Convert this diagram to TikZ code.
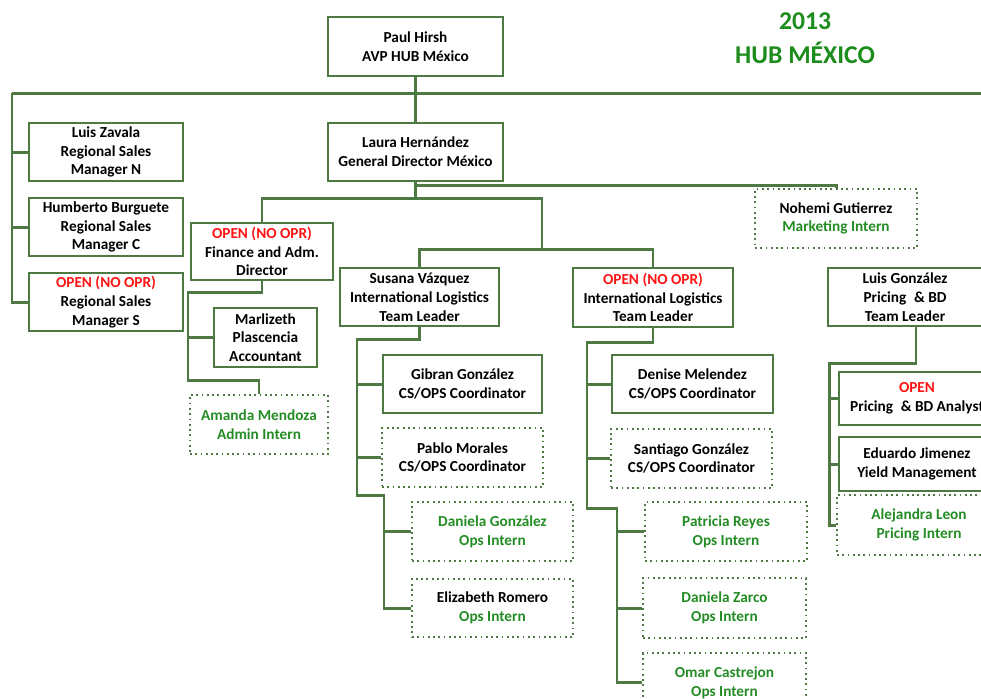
\documentclass[tikz,border=0pt]{standalone}
\usepackage{fontspec}
\setmainfont{Carlito}
\usepackage{xcolor}
\usepackage{tikz}
\usetikzlibrary{positioning}

\definecolor{boxgreen}{RGB}{79,121,66}
\definecolor{interngreen}{RGB}{36,140,36}
\definecolor{titlegreen}{RGB}{28,140,28}
\definecolor{openred}{RGB}{255,20,20}
\newcommand{\opentxt}[1]{\textcolor{openred}{#1}}
\newcommand{\interntxt}[1]{\textcolor{interngreen}{#1}}

\begin{document}
\begin{tikzpicture}[
        x=0.02cm, y=-0.02cm,
        box/.style={rectangle, draw=boxgreen, line width=1pt, fill=white, inner sep=0pt, align=center, font=\bfseries\fontsize{8.7}{10.7}\selectfont},
        ibox/.style={box, dotted, line width=1.3pt},
        link/.style={draw=boxgreen, line width=1.7pt}
    ]
    \useasboundingbox (0,0) rectangle (981,698);

    % Title
    \node (year) [font=\bfseries\fontsize{14.6}{16}\selectfont, text=titlegreen] at (805,21) {2013};
    \node (hub) [font=\bfseries\fontsize{14.6}{16}\selectfont, text=titlegreen] at (805,53) {HUB MÉXICO};

    % Direccion
    \node (paul) [box, minimum width=3.5cm, minimum height=1.18cm] at (415.5,46.5) {Paul Hirsh\\AVP HUB México};
    \node (laura) [box, minimum width=3.5cm, minimum height=1.16cm] at (415.5,152) {Laura Hernández\\General Director México};

    % Ventas regionales
    \node (zavala) [box, minimum width=3.08cm, minimum height=1.16cm] at (106,152) {Luis Zavala\\Regional Sales\\Manager N};
    \node (burguete) [box, minimum width=3.08cm, minimum height=1.16cm] at (106,227) {Humberto Burguete\\Regional Sales\\Manager C};
    \node (rsms) [box, minimum width=3.08cm, minimum height=1.16cm] at (106,302) {\opentxt{OPEN (NO OPR)}\\Regional Sales\\Manager S};

    % Finanzas
    \node (finance) [box, minimum width=2.84cm, minimum height=1.14cm] at (262,251.5) {\opentxt{OPEN (NO OPR)}\\Finance and Adm.\\Director};
    \node (marlizeth) [box, minimum width=2.06cm, minimum height=1.18cm] at (265.5,337.5) {Marlizeth\\Plascencia\\Accountant};
    \node (amanda) [ibox, minimum width=2.76cm, minimum height=1.18cm] at (259,424.5) {\interntxt{Amanda Mendoza}\\\interntxt{Admin Intern}};

    % Logistica 1
    \node (susana) [box, minimum width=3.18cm, minimum height=1.16cm] at (419.5,297) {Susana Vázquez\\International Logistics\\Team Leader};
    \node (gibran) [box, minimum width=3.18cm, minimum height=1.16cm] at (462.5,384) {Gibran González\\CS/OPS Coordinator};
    \node (pablo) [ibox, minimum width=3.22cm, minimum height=1.18cm] at (462.5,457.5) {Pablo Morales\\CS/OPS Coordinator};
    \node (danielag) [ibox, minimum width=3.22cm, minimum height=1.18cm] at (492.5,531.5) {\interntxt{Daniela González}\\\interntxt{Ops Intern}};
    \node (elizabeth) [ibox, minimum width=3.22cm, minimum height=1.16cm] at (492.5,608) {Elizabeth Romero\\\interntxt{Ops Intern}};

    % Logistica 2
    \node (openil) [box, minimum width=3.2cm, minimum height=1.18cm] at (653,297.5) {\opentxt{OPEN (NO OPR)}\\International Logistics\\Team Leader};
    \node (denise) [box, minimum width=3.22cm, minimum height=1.16cm] at (692.5,384) {Denise Melendez\\CS/OPS Coordinator};
    \node (santiago) [ibox, minimum width=3.22cm, minimum height=1.18cm] at (691.5,458.5) {Santiago González\\CS/OPS Coordinator};
    \node (patricia) [ibox, minimum width=3.24cm, minimum height=1.18cm] at (726,531.5) {\interntxt{Patricia Reyes}\\\interntxt{Ops Intern}};
    \node (danielaz) [ibox, minimum width=3.26cm, minimum height=1.2cm] at (724.5,608) {\interntxt{Daniela Zarco}\\\interntxt{Ops Intern}};
    \node (omar) [ibox, minimum width=3.26cm, minimum height=1.18cm] at (724.5,682.5) {\interntxt{Omar Castrejon}\\\interntxt{Ops Intern}};

    % Marketing
    \node (nohemi) [ibox, minimum width=3.24cm, minimum height=1.18cm] at (836,218.5) {Nohemi Gutierrez\\\interntxt{Marketing Intern}};

    % Pricing
    \node (luisg) [box, minimum width=3.08cm, minimum height=1.16cm] at (905,297) {Luis González\\Pricing\enspace\& BD\\Team Leader};
    \node (analyst) [box, minimum width=3.12cm, minimum height=1.06cm] at (917,398.5) {\opentxt{OPEN}\\Pricing\enspace\& BD Analyst};
    \node (eduardo) [box, minimum width=3.12cm, minimum height=1.08cm] at (917,464) {Eduardo Jimenez\\Yield Management};
    \node (alejandra) [ibox, minimum width=3.28cm, minimum height=1.2cm] at (919,525) {\interntxt{Alejandra Leon}\\\interntxt{Pricing Intern}};

    % Puntos de quiebre
    \coordinate (topL) at (12,93);
    \coordinate (topR) at (981,93);
    \coordinate (nohL) at (415.5,185);
    \coordinate (teamR) at (542,198);
    \coordinate (ilbus) at (542,249);
    \coordinate (finL) at (188,292);
    \coordinate (finB) at (188,380);
    \coordinate (susL) at (357,339);
    \coordinate (susB) at (384,495);
    \coordinate (oilL) at (587,342);
    \coordinate (oilB) at (617,508);
    \coordinate (priL) at (829,363);

    % Lineas
    \draw [link] (paul.south) -- (laura.north);
    \draw [link] (topL) -- (topR);
    \draw [link] (topL) |- (rsms.west);
    \draw [link] (topL |- zavala.west) -- (zavala.west);
    \draw [link] (topL |- burguete.west) -- (burguete.west);

    \draw [link] (laura.south) -- (laura.south |- teamR) -| (finance.north);
    \draw [link] (laura.south |- teamR) -- (teamR) -- (ilbus);
    \draw [link] (susana.north) |- (ilbus) -| (openil.north);
    \draw [link] (nohL) -| (nohemi.north);

    \draw [link] (finance.south) |- (finL) -- (finB) -| (amanda.north);
    \draw [link] (finL |- marlizeth.west) -- (marlizeth.west);

    \draw [link] (susana.south) |- (susL) |- (susB) |- (elizabeth.west);
    \draw [link] (susL |- gibran.west) -- (gibran.west);
    \draw [link] (susL |- pablo.west) -- (pablo.west);
    \draw [link] (susB |- danielag.west) -- (danielag.west);

    \draw [link] (openil.south) |- (oilL) |- (oilB) |- (omar.west);
    \draw [link] (oilL |- denise.west) -- (denise.west);
    \draw [link] (oilL |- santiago.west) -- (santiago.west);
    \draw [link] (oilB |- patricia.west) -- (patricia.west);
    \draw [link] (oilB |- danielaz.west) -- (danielaz.west);

    \draw [link] ([xshift=0.22cm]luisg.south) |- (priL) |- (alejandra.west);
    \draw [link] (priL |- analyst.west) -- (analyst.west);
    \draw [link] (priL |- eduardo.west) -- (eduardo.west);

\end{tikzpicture}
\end{document}
